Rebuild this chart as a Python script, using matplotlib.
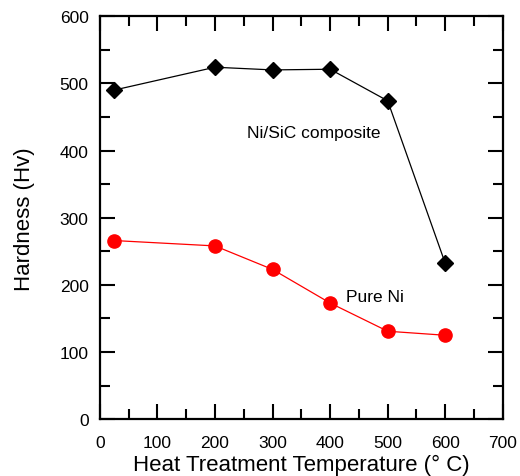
import matplotlib

matplotlib.use("Agg")

import matplotlib.pyplot as plt
from matplotlib.ticker import MultipleLocator

plt.rcParams["font.family"] = ["Liberation Sans", "DejaVu Sans"]

temps = [25, 200, 300, 400, 500, 600]
composite_hv = [490, 524, 520, 521, 474, 232]
pure_ni_hv = [266, 258, 223, 173, 131, 125]

fig = plt.figure(figsize=(5.2, 4.77), dpi=100)
ax = fig.add_axes([0.192, 0.119, 0.775, 0.845])

ax.plot(temps, composite_hv, color="black", lw=0.9, marker="D", ms=8.5,
        mfc="black", mec="black")
ax.plot(temps, pure_ni_hv, color="red", lw=0.9, marker="o", ms=9.5,
        mfc="red", mec="red")

ax.text(255, 427, "Ni/SiC composite", fontsize=12.5, va="center", ha="left")
ax.text(427, 183, "Pure Ni", fontsize=12.5, va="center", ha="left")

ax.set_xlim(0, 700)
ax.set_ylim(0, 600)
ax.xaxis.set_major_locator(MultipleLocator(100))
ax.xaxis.set_minor_locator(MultipleLocator(50))
ax.yaxis.set_major_locator(MultipleLocator(100))
ax.yaxis.set_minor_locator(MultipleLocator(50))
ax.tick_params(which="both", direction="in", top=True, right=True,
               width=1.5, labelsize=12.5)
ax.tick_params(axis="x", pad=11)
ax.tick_params(axis="y", pad=8)
ax.tick_params(which="major", length=11)
ax.tick_params(which="minor", length=7)
for s in ax.spines.values():
    s.set_linewidth(1.6)

ax.set_xlabel("Heat Treatment Temperature (\u00b0 C)", fontsize=16, labelpad=3)
ax.set_ylabel("Hardness (Hv)", fontsize=16, labelpad=18)

fig.savefig("out.png", dpi=100)
